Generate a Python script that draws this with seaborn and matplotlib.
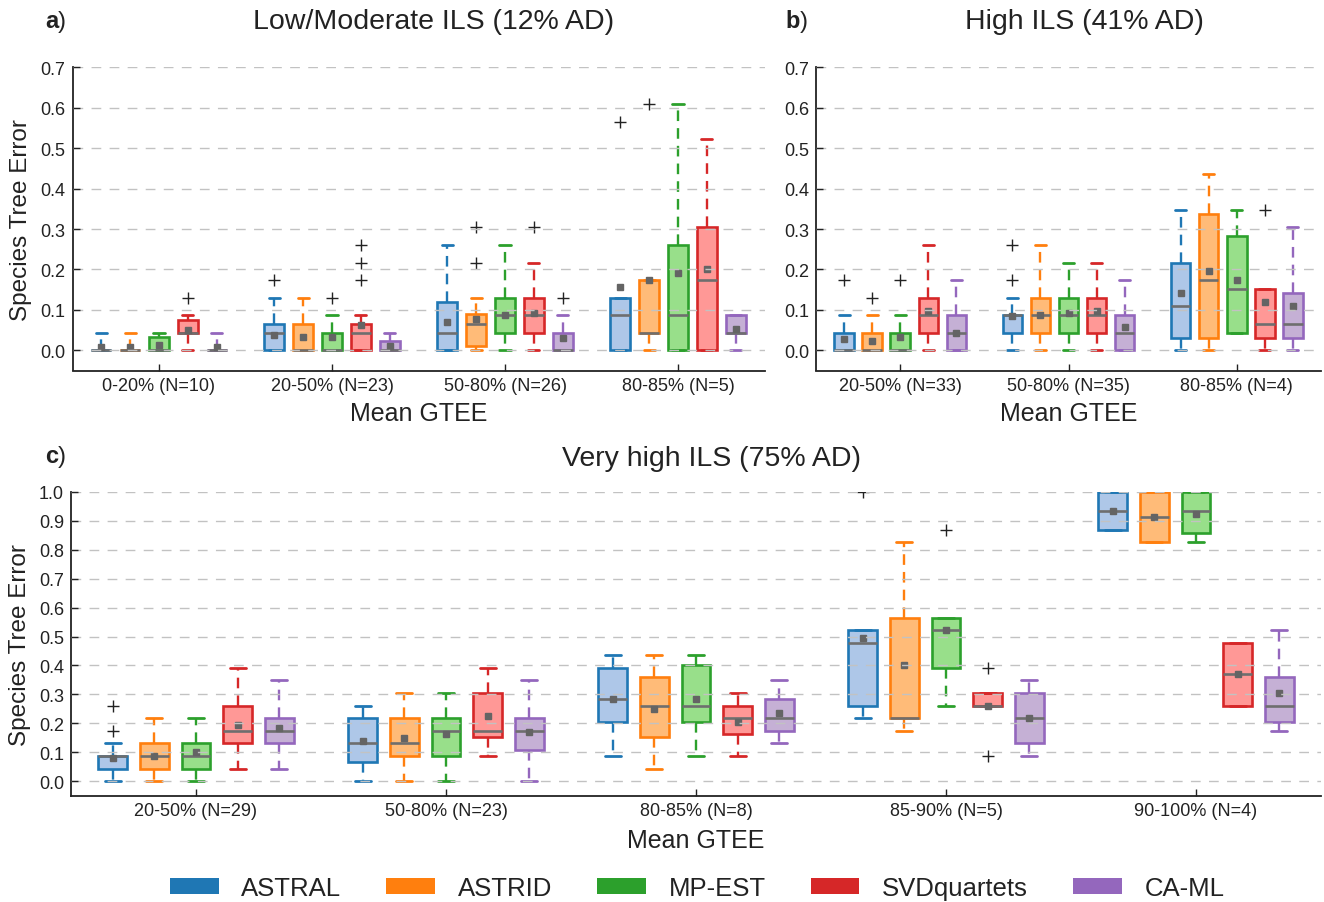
import numpy as np
import matplotlib
matplotlib.use("Agg")
import matplotlib.pyplot as plt
from matplotlib.patches import Patch
import seaborn as sns

# methods (same order in every panel)
METHODS = ["ASTRAL", "ASTRID", "MP-EST", "SVDquartets", "CA-ML"]

# ---- panel a: Low/Moderate ILS (12% AD) ----
A_GROUPS = ["0-20% (N=10)", "20-50% (N=23)", "50-80% (N=26)", "80-85% (N=5)"]
A_LO = [[0, 0, 0, 0], [0, 0, 0, 0], [0, 0, 0, 0], [0, 0, 0, 0], [0, 0, 0, 0]]
A_Q1 = [[0, 0, 0, 0], [0, 0, 0.010, 0.043], [0, 0, 0.043, 0],
        [0.043, 0, 0.043, 0], [0, 0, 0, 0.043]]
A_MED = [[0, 0.043, 0.043, 0.087], [0, 0, 0.065, 0.043], [0, 0, 0.087, 0.087],
         [0.043, 0.043, 0.087, 0.174], [0, 0, 0, 0.043]]
A_Q3 = [[0, 0.065, 0.120, 0.130], [0, 0.065, 0.089, 0.174], [0.033, 0.043, 0.130, 0.261],
        [0.076, 0.065, 0.130, 0.304], [0, 0.022, 0.043, 0.087]]
A_HI = [[0.043, 0.130, 0.261, 0.130], [0.043, 0.130, 0.130, 0.174], [0.043, 0.087, 0.261, 0.609],
        [0.087, 0.087, 0.217, 0.522], [0.043, 0.043, 0.087, 0.087]]
A_MEAN = [[0.009, 0.038, 0.070, 0.157], [0.009, 0.034, 0.077, 0.174], [0.013, 0.034, 0.087, 0.191],
          [0.051, 0.062, 0.091, 0.200], [0.007, 0.011, 0.030, 0.052]]
A_FLIERS = [[[], [0.174], [], [0.565]],
            [[], [], [0.217, 0.304], [0.609]],
            [[], [0.130], [], []],
            [[0.130], [0.174, 0.217, 0.261], [0.304], []],
            [[], [], [0.130], []]]

# ---- panel b: High ILS (41% AD) ----
B_GROUPS = ["20-50% (N=33)", "50-80% (N=35)", "80-85% (N=4)"]
B_LO = [[0, 0, 0], [0, 0, 0], [0, 0, 0.043], [0, 0, 0], [0, 0, 0]]
B_Q1 = [[0, 0.043, 0.030], [0, 0.043, 0.030], [0, 0.043, 0.043],
        [0.043, 0.043, 0.030], [0, 0, 0.030]]
B_MED = [[0, 0.087, 0.109], [0, 0.087, 0.174], [0, 0.087, 0.152],
         [0.087, 0.087, 0.065], [0.043, 0.043, 0.065]]
B_Q3 = [[0.043, 0.087, 0.217], [0.043, 0.130, 0.337], [0.043, 0.130, 0.283],
        [0.130, 0.130, 0.152], [0.087, 0.087, 0.141]]
B_HI = [[0.087, 0.130, 0.348], [0.087, 0.261, 0.435], [0.087, 0.217, 0.348],
        [0.261, 0.217, 0.152], [0.174, 0.174, 0.304]]
B_MEAN = [[0.027, 0.086, 0.141], [0.022, 0.087, 0.195], [0.032, 0.092, 0.174],
          [0.098, 0.098, 0.120], [0.043, 0.057, 0.109]]
B_FLIERS = [[[0.174], [0.174, 0.261], []],
            [[0.130], [], []],
            [[0.174], [], []],
            [[], [], [0.348]],
            [[], [], []]]

# ---- panel c: Very high ILS (75% AD) ----
C_GROUPS = ["20-50% (N=29)", "50-80% (N=23)", "80-85% (N=8)", "85-90% (N=5)", "90-100% (N=4)"]
C_LO = [[0, 0, 0.087, 0.217, 0.870], [0, 0, 0.043, 0.174, 0.826], [0, 0, 0.087, 0.261, 0.826],
        [0.043, 0.087, 0.087, 0.261, 0.261], [0.043, 0, 0.130, 0.087, 0.174]]
C_Q1 = [[0.043, 0.065, 0.204, 0.261, 0.870], [0.043, 0.087, 0.152, 0.217, 0.826],
        [0.043, 0.087, 0.204, 0.391, 0.857], [0.130, 0.152, 0.163, 0.261, 0.261],
        [0.130, 0.109, 0.174, 0.130, 0.204]]
C_MED = [[0.087, 0.130, 0.283, 0.478, 0.935], [0.087, 0.130, 0.261, 0.217, 0.913],
         [0.087, 0.174, 0.261, 0.522, 0.935], [0.174, 0.174, 0.217, 0.261, 0.370],
         [0.174, 0.174, 0.217, 0.217, 0.261]]
C_Q3 = [[0.087, 0.217, 0.391, 0.522, 1.0], [0.130, 0.217, 0.359, 0.565, 1.0],
        [0.130, 0.217, 0.402, 0.565, 1.0], [0.261, 0.304, 0.261, 0.304, 0.478],
        [0.217, 0.217, 0.283, 0.304, 0.359]]
C_HI = [[0.130, 0.261, 0.435, 0.522, 1.0], [0.217, 0.304, 0.435, 0.826, 1.0],
        [0.217, 0.304, 0.435, 0.565, 1.0], [0.391, 0.391, 0.304, 0.304, 0.478],
        [0.348, 0.348, 0.348, 0.348, 0.522]]
C_MEAN = [[0.080, 0.139, 0.283, 0.495, 0.935], [0.087, 0.149, 0.250, 0.400, 0.912],
          [0.099, 0.162, 0.283, 0.522, 0.924], [0.193, 0.226, 0.206, 0.261, 0.370],
          [0.182, 0.170, 0.235, 0.217, 0.305]]
C_FLIERS = [[[0.174, 0.261], [], [], [1.0], []],
            [[], [], [], [], []],
            [[], [], [], [0.870], []],
            [[], [], [], [0.087, 0.391], []],
            [[], [], [], [], []]]

sns.set_style("ticks")
plt.rcParams["font.family"] = ["Liberation Sans", "DejaVu Sans"]
plt.rcParams["text.color"] = "#222222"
plt.rcParams["axes.edgecolor"] = "#222222"
plt.rcParams["axes.labelcolor"] = "#222222"
plt.rcParams["xtick.color"] = "#222222"
plt.rcParams["ytick.color"] = "#222222"

pal = sns.color_palette("tab20")
DARK = [pal[0], pal[2], pal[4], pal[6], pal[8]]
LIGHT = [pal[1], pal[3], pal[5], pal[7], pal[9]]

W, H = 1324, 903
fig = plt.figure(figsize=(W / 100, H / 100), dpi=100)


def px_axes(x0, x1, y_top, y_bot):
    return fig.add_axes([x0 / W, 1 - y_bot / H, (x1 - x0) / W, (y_bot - y_top) / H])


def draw_panel(ax, groups, lo, q1, med, q3, hi, mean, fliers, ytop):
    n = len(groups)
    for m in range(len(METHODS)):
        stats = []
        for g in range(n):
            stats.append(dict(whislo=lo[m][g], q1=q1[m][g], med=med[m][g], q3=q3[m][g],
                              whishi=hi[m][g], mean=mean[m][g], fliers=fliers[m][g]))
        pos = np.arange(n) + (m - 2) / 6
        ax.bxp(stats, positions=pos, widths=0.115, capwidths=0.065, patch_artist=True,
               showmeans=True, manage_ticks=False,
               boxprops=dict(facecolor=LIGHT[m], edgecolor=DARK[m], linewidth=1.9),
               whiskerprops=dict(color=DARK[m], linewidth=1.7, linestyle=(0, (4.5, 3))),
               capprops=dict(color=DARK[m], linewidth=2.0),
               medianprops=dict(color="#6e6e6e", linewidth=1.9),
               meanprops=dict(marker="s", markerfacecolor="#646464", markeredgecolor="#646464",
                              markersize=4.8),
               flierprops=dict(marker="+", markeredgecolor="#222222", markersize=8,
                               markeredgewidth=1))
    ax.set_xlim(-0.5, n - 0.5)
    ax.set_ylim(-0.05, ytop)
    ax.set_xticks(range(n))
    ax.set_xticklabels(groups, fontsize=13)
    yt = np.round(np.arange(0, ytop + 0.001, 0.1), 1)
    ax.set_yticks(yt)
    ax.set_yticklabels([f"{v:.1f}" for v in yt], fontsize=13)
    ax.tick_params(direction="in", length=5, width=1, pad=5)
    ax.yaxis.grid(True, linestyle=(0, (7, 6)), color="#c2c2c2", linewidth=1)
    ax.set_axisbelow(False)
    sns.despine(ax=ax)
    for s in ("left", "bottom"):
        ax.spines[s].set_linewidth(1.3)
    ax.set_xlabel("Mean GTEE", fontsize=18, labelpad=5)


ax_a = px_axes(72.5, 764.5, 68.3, 371.5)
draw_panel(ax_a, A_GROUPS, A_LO, A_Q1, A_MED, A_Q3, A_HI, A_MEAN, A_FLIERS, 0.7)
ax_a.set_ylabel("Species Tree Error", fontsize=17.5, labelpad=6)

ax_b = px_axes(816, 1321, 68.3, 371.5)
draw_panel(ax_b, B_GROUPS, B_LO, B_Q1, B_MED, B_Q3, B_HI, B_MEAN, B_FLIERS, 0.7)

ax_c = px_axes(71, 1321, 493, 796.5)
draw_panel(ax_c, C_GROUPS, C_LO, C_Q1, C_MED, C_Q3, C_HI, C_MEAN, C_FLIERS, 1.0)
ax_c.set_ylabel("Species Tree Error", fontsize=17.5, labelpad=6)
ax_c.xaxis.labelpad = 6

# titles and panel letters
for cx, cy, title in [(434, 22, "Low/Moderate ILS (12% AD)"),
                      (1084, 22, "High ILS (41% AD)"),
                      (712, 459, "Very high ILS (75% AD)")]:
    fig.text(cx / W, 1 - cy / H, title, ha="center", va="center", fontsize=20.5)
for lx, ly, letter in [(58, 22, "a"), (800, 22, "b"), (58, 457, "c")]:
    fig.text(lx / W, 1 - ly / H, letter, ha="right", va="center", fontsize=17, fontweight="bold")
    fig.text(lx / W, 1 - ly / H, ")", ha="left", va="center", fontsize=17)

handles = [Patch(facecolor=DARK[m], edgecolor="none", label=METHODS[m]) for m in range(len(METHODS))]
fig.legend(handles=handles, loc="center", bbox_to_anchor=(697 / W, 1 - 889 / H), ncol=5,
           frameon=False, fontsize=18.5, handlelength=1.9, handleheight=0.55,
           handletextpad=0.88, columnspacing=1.75)

fig.savefig("out.png", dpi=100)
